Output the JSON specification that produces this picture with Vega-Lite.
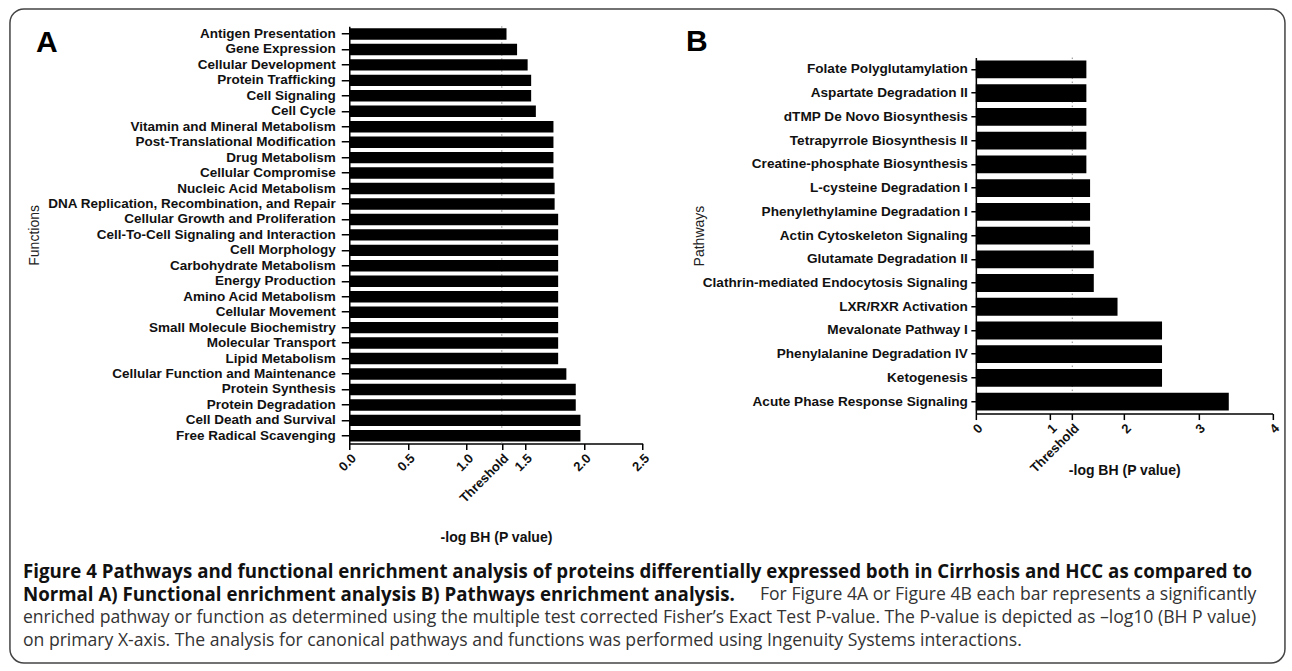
{
  "$schema": "https://vega.github.io/schema/vega-lite/v6.json",
  "padding": {"left": 8.25, "top": 7.25, "right": 0, "bottom": 0},
  "background": "white",
  "columns": 2,
  "align": "each",
  "bounds": "flush",
  "spacing": {"column": 332.6, "row": 127.7},
  "config": {
    "view": {"stroke": null},
    "font": "Liberation Sans",
    "axis": {
      "grid": false,
      "domainColor": "#000",
      "domainWidth": 1.5,
      "tickColor": "#000",
      "tickWidth": 1.5,
      "labelColor": "#111",
      "labelFont": "Liberation Sans",
      "labelFontSize": 13,
      "labelFontWeight": "bold",
      "labelLimit": 500,
      "titleColor": "#111",
      "titleFont": "Liberation Sans",
      "labelOverlap": false,
      "labelBound": false,
      "labelFlush": false
    },
    "title": {"font": "Liberation Sans", "fontSize": 30, "fontWeight": "bold", "color": "#000"}
  },
  "concat": [
    {
      "width": 293.4,
      "height": 417.3,
      "title": {"text": "A", "anchor": "start", "frame": "group", "orient": "top", "baseline": "alphabetic", "offset": -56.3, "dx": -313.3},
      "layer": [
        {
          "data": {"values": [{"threshold": 1.3}]},
          "mark": {"type": "rule", "color": "#8a8a8a", "strokeDash": [1.5, 2.5], "strokeWidth": 1},
          "encoding": {
            "x": {"field": "threshold", "type": "quantitative", "title": "-log BH (P value)", "scale": {"domain": [0, 2.5], "nice": false}}
          }
        },
        {
          "data": {"values": [
            {"function": "Antigen Presentation", "value": 1.34},
            {"function": "Gene Expression", "value": 1.43},
            {"function": "Cellular Development", "value": 1.52},
            {"function": "Protein Trafficking", "value": 1.55},
            {"function": "Cell Signaling", "value": 1.55},
            {"function": "Cell Cycle", "value": 1.59},
            {"function": "Vitamin and Mineral Metabolism", "value": 1.74},
            {"function": "Post-Translational Modification", "value": 1.74},
            {"function": "Drug Metabolism", "value": 1.74},
            {"function": "Cellular Compromise", "value": 1.74},
            {"function": "Nucleic Acid Metabolism", "value": 1.75},
            {"function": "DNA Replication, Recombination, and Repair", "value": 1.75},
            {"function": "Cellular Growth and Proliferation", "value": 1.78},
            {"function": "Cell-To-Cell Signaling and Interaction", "value": 1.78},
            {"function": "Cell Morphology", "value": 1.78},
            {"function": "Carbohydrate Metabolism", "value": 1.78},
            {"function": "Energy Production", "value": 1.78},
            {"function": "Amino Acid Metabolism", "value": 1.78},
            {"function": "Cellular Movement", "value": 1.78},
            {"function": "Small Molecule Biochemistry", "value": 1.78},
            {"function": "Molecular Transport", "value": 1.78},
            {"function": "Lipid Metabolism", "value": 1.78},
            {"function": "Cellular Function and Maintenance", "value": 1.85},
            {"function": "Protein Synthesis", "value": 1.93},
            {"function": "Protein Degradation", "value": 1.93},
            {"function": "Cell Death and Survival", "value": 1.97},
            {"function": "Free Radical Scavenging", "value": 1.97}
          ]},
          "mark": {"type": "bar", "color": "#000"},
          "encoding": {
            "y": {
              "field": "function", "type": "nominal", "sort": null,
              "scale": {"paddingInner": 0.26, "paddingOuter": 0.13},
              "axis": {"title": "Functions", "titleFontWeight": "normal", "titleFontSize": 14, "titleColor": "#222", "titleX": -315, "titleBaseline": "middle", "tickSize": 8, "labelPadding": 6, "labelFontSize": 13.5}
            },
            "x": {
              "field": "value", "type": "quantitative",
              "scale": {"domain": [0, 2.5], "nice": false},
              "axis": {
                "values": [0, 0.5, 1, 1.3, 1.5, 2, 2.5],
                "labelExpr": "datum.value == 1.3 ? 'Threshold' : format(datum.value, '.1f')",
                "labelAngle": -45, "labelAlign": "right", "labelBaseline": "top",
                "tickSize": 6, "labelPadding": 2,
                "title": "-log BH (P value)", "titleFontSize": 14, "titleFontWeight": "bold",
                "titleY": 94, "titleBaseline": "middle"
              }
            }
          }
        }
      ]
    },
    {
      "width": 296.7,
      "height": 387.3,
      "title": {"text": "B", "anchor": "start", "frame": "group", "orient": "top", "baseline": "alphabetic", "offset": -55, "dx": -289.8},
      "layer": [
        {
          "data": {"values": [{"threshold": 1.3}]},
          "mark": {"type": "rule", "color": "#8a8a8a", "strokeDash": [1.5, 2.5], "strokeWidth": 1},
          "encoding": {
            "x": {"field": "threshold", "type": "quantitative", "title": "-log BH (P value)", "scale": {"domain": [0, 4], "nice": false}},
            "y": {"value": 31.3},
            "y2": {"value": "height"}
          }
        },
        {
          "data": {"values": [
            {"pathway": "Folate Polyglutamylation", "value": 1.49},
            {"pathway": "Aspartate Degradation II", "value": 1.49},
            {"pathway": "dTMP De Novo Biosynthesis", "value": 1.49},
            {"pathway": "Tetrapyrrole Biosynthesis II", "value": 1.49},
            {"pathway": "Creatine-phosphate Biosynthesis", "value": 1.49},
            {"pathway": "L-cysteine Degradation I", "value": 1.54},
            {"pathway": "Phenylethylamine Degradation I", "value": 1.54},
            {"pathway": "Actin Cytoskeleton Signaling", "value": 1.54},
            {"pathway": "Glutamate Degradation II", "value": 1.59},
            {"pathway": "Clathrin-mediated Endocytosis Signaling", "value": 1.59},
            {"pathway": "LXR/RXR Activation", "value": 1.91},
            {"pathway": "Mevalonate Pathway I", "value": 2.51},
            {"pathway": "Phenylalanine Degradation IV", "value": 2.51},
            {"pathway": "Ketogenesis", "value": 2.51},
            {"pathway": "Acute Phase Response Signaling", "value": 3.41}
          ]},
          "mark": {"type": "bar", "color": "#000"},
          "encoding": {
            "y": {
              "field": "pathway", "type": "nominal", "sort": null,
              "scale": {"range": [31.3, 387.3], "paddingInner": 0.25, "paddingOuter": 0.125},
              "axis": {"title": "Pathways", "titleFontWeight": "normal", "titleFontSize": 14, "titleColor": "#222", "titleX": -276, "titleBaseline": "middle", "tickSize": 5, "labelPadding": 3.5, "labelFontSize": 13.6}
            },
            "x": {
              "field": "value", "type": "quantitative",
              "scale": {"domain": [0, 4], "nice": false},
              "axis": {
                "values": [0, 1, 1.3, 2, 3, 4],
                "labelExpr": "datum.value == 1.3 ? 'Threshold' : format(datum.value, 'd')",
                "labelAngle": -45, "labelAlign": "right", "labelBaseline": "top",
                "tickSize": 6, "labelPadding": 2,
                "title": "-log BH (P value)", "titleFontSize": 14, "titleFontWeight": "bold",
                "titleY": 57, "titleBaseline": "middle"
              }
            }
          }
        }
      ]
    },
    {
      "width": 293,
      "height": 69,
      "layer": [
        {
          "data": {"values": [{"frame": "figure border"}]},
          "mark": {"type": "rect", "fill": "white", "fillOpacity": 0, "stroke": "#444", "strokeWidth": 1.5, "cornerRadius": 14},
          "encoding": {
            "x": {"value": -339.3},
            "x2": {"value": 935.7},
            "y": {"value": -563},
            "y2": {"value": 91}
          }
        },
        {
          "data": {"values": [
            {"line": 1, "text": "Figure 4 Pathways and functional enrichment analysis of proteins differentially expressed both in Cirrhosis and HCC as compared to"},
            {"line": 2, "text": "Normal A) Functional enrichment analysis B) Pathways enrichment analysis."}
          ]},
          "mark": {"type": "text", "align": "left", "baseline": "middle", "font": "Open Sans", "fontSize": 18.7, "fontWeight": "bold", "color": "#111"},
          "encoding": {
            "x": {"value": -326.3},
            "y": {"field": "line", "type": "ordinal", "scale": {"domain": [1, 2, 3, 4], "padding": 0}, "axis": null},
            "text": {"field": "text"}
          }
        },
        {
          "data": {"values": [
            {"line": 2, "text": "For Figure 4A or Figure 4B each bar represents a significantly"}
          ]},
          "mark": {"type": "text", "align": "right", "baseline": "middle", "font": "Open Sans", "fontSize": 17.6, "color": "#333"},
          "encoding": {
            "x": {"value": 907},
            "y": {"field": "line", "type": "ordinal", "scale": {"domain": [1, 2, 3, 4], "padding": 0}, "axis": null},
            "text": {"field": "text"}
          }
        },
        {
          "data": {"values": [
            {"line": 3, "text": "enriched pathway or function as determined using the multiple test corrected Fisher’s Exact Test P-value. The P-value is depicted as –log10 (BH P value)"},
            {"line": 4, "text": "on primary X-axis. The analysis for canonical pathways and functions was performed using Ingenuity Systems interactions."}
          ]},
          "mark": {"type": "text", "align": "left", "baseline": "middle", "font": "Open Sans", "fontSize": 17.6, "color": "#333"},
          "encoding": {
            "x": {"value": -326.3},
            "y": {"field": "line", "type": "ordinal", "scale": {"domain": [1, 2, 3, 4], "padding": 0}, "axis": null},
            "text": {"field": "text"}
          }
        }
      ]
    }
  ]
}
